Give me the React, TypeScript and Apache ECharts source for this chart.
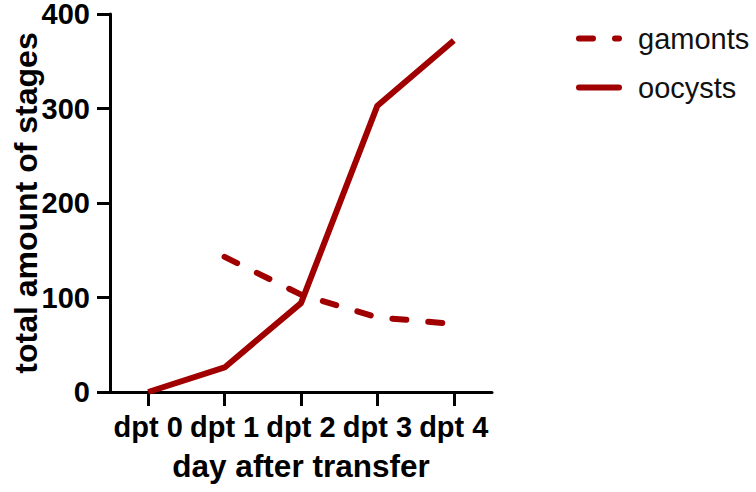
import React, { useEffect, useRef } from "react";
import * as echarts from "echarts";

const categories = ["dpt 0", "dpt 1", "dpt 2", "dpt 3", "dpt 4"];
const gamonts: (number | null)[] = [null, 143, 103, 79, 72];
const oocysts = [0, 26, 94, 303, 372];
const yTicks = { min: 0, max: 400, interval: 100 };

const RED = "#a00000";
const FONT = "Liberation Sans, Arial, sans-serif";

export default function App() {
  const ref = useRef<HTMLDivElement>(null);
  useEffect(() => {
    if (!ref.current) return;
    const chart = echarts.init(ref.current, undefined, { renderer: "svg" });
    chart.setOption({
      animation: false,
      backgroundColor: "#ffffff",
      grid: { left: 110, right: 264, top: 14, bottom: 100, containLabel: false, outerBoundsMode: "none" },
      legend: {
        orient: "vertical",
        left: 576,
        top: 19,
        padding: [5, 0, 5, 0],
        itemWidth: 40,
        itemHeight: 14,
        itemGap: 20,
        itemStyle: { opacity: 0 },
        lineStyle: { width: 6, cap: "round" },
        textStyle: { fontFamily: FONT, fontSize: 29, color: "#111", padding: [0, 0, 0, 14] },
        data: ["gamonts", "oocysts"],
      },
      xAxis: {
        type: "category",
        data: categories,
        boundaryGap: true,
        name: "day after transfer",
        nameLocation: "middle",
        nameGap: 58,
        nameMoveOverlap: false,
        nameTextStyle: { fontFamily: FONT, fontWeight: "bold", fontSize: 31.5, color: "#000" },
        axisLine: { show: true, lineStyle: { color: "#000", width: 3 } },
        axisTick: { show: true, alignWithLabel: true, length: 14, lineStyle: { color: "#000", width: 3 } },
        axisLabel: { margin: 20, fontFamily: FONT, fontWeight: "bold", fontSize: 29, color: "#000", interval: 0 },
        splitLine: { show: false },
      },
      yAxis: {
        type: "value",
        min: yTicks.min,
        max: yTicks.max,
        interval: yTicks.interval,
        name: "total amount of stages",
        nameLocation: "middle",
        nameGap: 68,
        nameMoveOverlap: false,
        nameTextStyle: { fontFamily: FONT, fontWeight: "bold", fontSize: 32, color: "#000" },
        axisLine: { show: true, lineStyle: { color: "#000", width: 3 } },
        axisTick: { show: true, length: 13, lineStyle: { color: "#000", width: 3 } },
        axisLabel: { margin: 20, fontFamily: FONT, fontWeight: "bold", fontSize: 29, color: "#000" },
        splitLine: { show: false },
      },
      series: [
        {
          name: "gamonts",
          type: "line",
          data: gamonts,
          symbol: "none",
          color: RED,
          lineStyle: { color: RED, width: 6, type: [14, 22], cap: "round" },
          connectNulls: false,
        },
        {
          name: "oocysts",
          type: "line",
          data: oocysts,
          symbol: "none",
          color: RED,
          lineStyle: { color: RED, width: 6, type: "solid" },
        },
      ],
    });
    return () => chart.dispose();
  }, []);
  return <div ref={ref} style={{ width: 756, height: 492, position: "absolute", left: 0, top: 0 }} />;
}
